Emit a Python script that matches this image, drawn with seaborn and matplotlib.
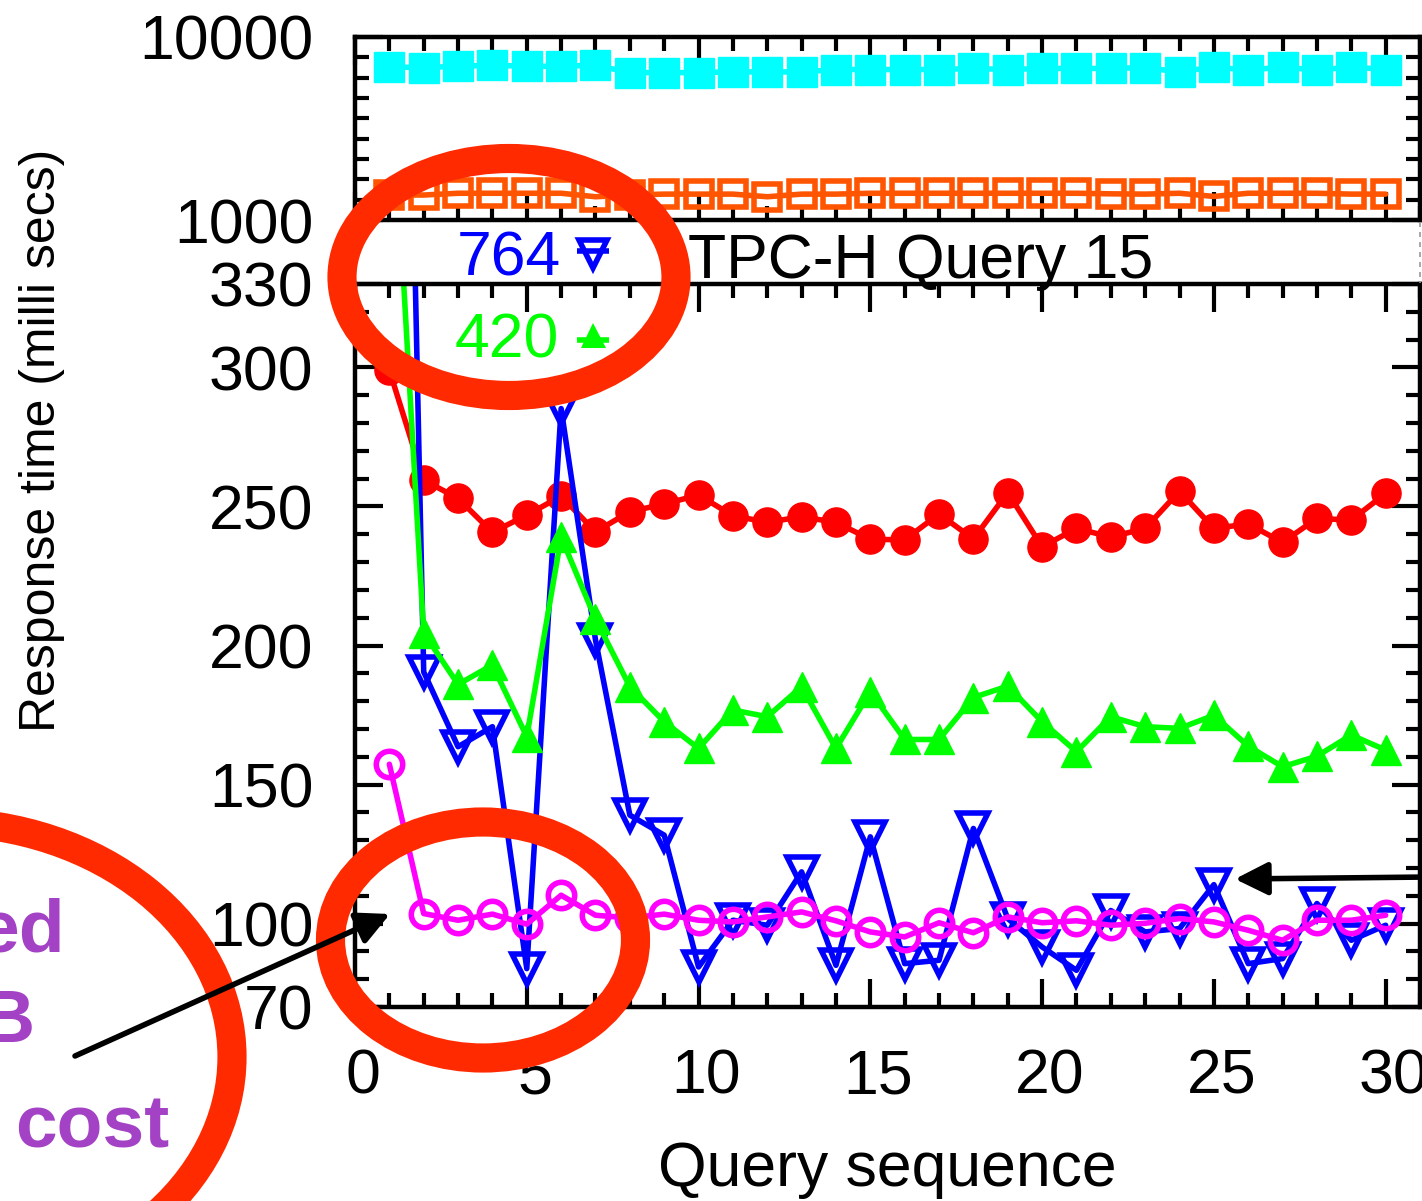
import matplotlib
matplotlib.use("Agg")
import matplotlib.pyplot as plt
import matplotlib.ticker as mticker
import matplotlib.transforms as mtransforms
from matplotlib.patches import Ellipse
import seaborn as sns

# ---------------------------------------------------------------- data
queries = list(range(1, 31))

# upper (log) panel
resp_cyan = [6860, 6810, 6920, 7010, 6920, 6920, 7010, 6390, 6390, 6390,
             6445, 6445, 6445, 6640, 6640, 6640, 6640, 6730, 6640, 6730,
             6730, 6730, 6810, 6440, 6860, 6580, 6860, 6580, 6860, 6640]
resp_orange = [1369, 1369, 1400, 1400, 1400, 1400, 1340, 1369, 1385, 1385,
               1385, 1340, 1385, 1385, 1400, 1400, 1400, 1400, 1400, 1400,
               1400, 1390, 1385, 1400, 1345, 1400, 1400, 1400, 1385, 1385]

# lower (linear) panel
resp_red = [299, 259.5, 252.9, 240.7, 246.9, 253.7, 240.9, 248.1, 250.9, 254.1,
            246.7, 244.3, 246.3, 244.3, 238.2, 238.0, 247.3, 238.3, 255.0, 235.5,
            242.1, 239.0, 242.1, 255.5, 242.1, 243.7, 237.1, 245.7, 245.1, 254.7]
resp_blue = [764, 190.5, 163.6, 170.8, 83.8, 285.2, 202.0, 139.0, 131.8, 84.4,
             101.2, 99.4, 118.6, 85.0, 131.2, 85.6, 86.8, 134.2, 101.8, 91.6,
             83.2, 104.7, 97.0, 98.2, 114.0, 85.6, 87.4, 107.2, 94.0, 99.4]
resp_green = [420, 204.5, 186.0, 193.0, 167.2, 239.0, 209.5, 185.2, 172.6, 163.0,
              176.8, 174.4, 185.2, 163.0, 183.4, 166.2, 166.2, 181.3, 185.4, 172.6,
              161.8, 174.4, 170.8, 170.2, 174.9, 163.8, 156.4, 160.2, 167.8, 162.4]
resp_magenta = [157.3, 103.6, 101.2, 103.4, 99.8, 110.2, 103.0, 102.0, 103.4, 101.2,
                100.6, 102.4, 104.2, 101.0, 97.0, 95.2, 100.3, 96.7, 102.4, 100.3,
                101.0, 99.4, 100.1, 101.8, 100.6, 97.6, 94.0, 101.2, 101.2, 103.0]

blue_label = "764"
green_label = "420"
top_ticks = [1000, 10000]
bottom_ticks = [70, 100, 150, 200, 250, 300, 330]

# ---------------------------------------------------------------- style
sns.set_theme(style="ticks")
plt.rcParams["font.family"] = ["Liberation Sans", "DejaVu Sans"]

W, H, DPI = 1422, 1201, 100
fig = plt.figure(figsize=(W / DPI, H / DPI), dpi=DPI, facecolor="white")


def box(left, top, right, bottom):
    return [left / W, 1 - bottom / H, (right - left) / W, (bottom - top) / H]


ax_top = fig.add_axes(box(355, 37, 1420, 220))
ax_bot = fig.add_axes(box(355, 284, 1420, 1007))

LW, MEW = 4.0, 4.0


def draw(ax, values, color, marker, filled, ms):
    sns.lineplot(x=queries, y=values, ax=ax, color=color, marker=marker,
                 markersize=ms, markerfacecolor=color if filled else "none",
                 markeredgecolor=color, markeredgewidth=MEW if not filled else 1.0,
                 linewidth=LW, legend=False)


draw(ax_top, resp_cyan, "#00FFFF", "s", True, 21)
draw(ax_top, resp_orange, "#FF5500", "s", False, 19)

draw(ax_bot, resp_red, "#FF0000", "o", True, 21)
draw(ax_bot, resp_blue, "#0000FF", "v", False, 21)
draw(ax_bot, resp_green, "#00FF00", "^", True, 21)
draw(ax_bot, resp_magenta, "#FF00FF", "o", False, 19)

for ax in (ax_top, ax_bot):
    ax.set_xlim(0, 31)
    ax.set_xlabel("")
    ax.set_ylabel("")
    ax.set_facecolor("white")
    ax.xaxis.set_major_locator(mticker.MultipleLocator(5))
    ax.xaxis.set_minor_locator(mticker.MultipleLocator(1))
    ax.tick_params(which="both", direction="in", top=True, bottom=True,
                   left=True, right=True, width=3.0, color="black",
                   labelsize=45, labelcolor="black")
    ax.tick_params(which="major", length=20)
    ax.tick_params(which="minor", length=10)
    ax.tick_params(axis="y", which="both", pad=30)
    for s in ax.spines.values():
        s.set_visible(True)
        s.set_linewidth(3.2)
        s.set_color("black")

ax_top.set_yscale("log")
ax_top.set_ylim(1000, 10000)
ax_top.yaxis.set_major_locator(mticker.FixedLocator(top_ticks))
ax_top.yaxis.set_major_formatter(mticker.FixedFormatter([str(v) for v in top_ticks]))
ax_top.yaxis.set_minor_locator(mticker.FixedLocator([10 ** (3 + k / 9) for k in range(1, 9)]))
ax_top.yaxis.set_minor_formatter(mticker.NullFormatter())
ax_top.tick_params(axis="x", labelbottom=False)

ax_bot.set_ylim(70, 330)
ax_bot.yaxis.set_major_locator(mticker.FixedLocator(bottom_ticks))
ax_bot.yaxis.set_major_formatter(mticker.FixedFormatter([str(v) for v in bottom_ticks]))
ax_bot.yaxis.set_minor_locator(mticker.MultipleLocator(10))
ax_bot.tick_params(axis="x", which="both", pad=29)

shift = mtransforms.ScaledTranslation(8 / DPI, 0, fig.dpi_scale_trans)
for t in ax_bot.xaxis.get_major_ticks():
    t.label1.set_transform(t.label1.get_transform() + shift)

# axis titles
fig.text(42 / W, 1 - 440 / H, "Response time (milli secs)", rotation=90,
         ha="center", va="center", fontsize=36, color="black")
fig.text(887 / W, 1 - 1186 / H, "Query sequence", ha="center",
         va="baseline", fontsize=45, color="black")

# ---------------------------------------------------------------- overlay
ov = fig.add_axes([0, 0, 1, 1], zorder=10)
ov.set_xlim(0, W)
ov.set_ylim(H, 0)
ov.axis("off")
ov.patch.set_alpha(0)

ov.text(688, 278, "TPC-H Query 15", ha="left", va="baseline", fontsize=45,
        color="black")
ov.text(457, 275, blue_label, ha="left", va="baseline", fontsize=45,
        color="#0000FF")
ov.plot([577, 609], [251, 251], color="#0000FF", lw=LW,
        solid_capstyle="butt")
ov.plot([593], [254], color="#0000FF", marker="v", ms=20,
        markerfacecolor="none", markeredgewidth=MEW, linestyle="none")
ov.text(455, 358, green_label, ha="left", va="baseline", fontsize=45,
        color="#00FF00")
ov.plot([577, 609], [340, 340], color="#00FF00", lw=LW,
        solid_capstyle="butt")
ov.plot([593], [335], color="#00FF00", marker="^", ms=18,
        markeredgewidth=0, linestyle="none")

ov.plot([1420, 1420], [222, 283], color="#999999", lw=1.2, ls=(0, (3, 3)))

ring = "#FF2A00"
for (cx, cy), w, h in [((509, 277), 334, 237), ((483, 940), 305, 236),
                       ((-60, 1057), 584, 470)]:
    ov.add_patch(Ellipse((cx, cy), w, h, fill=False, edgecolor=ring, lw=21))

purple = "#A342C4"
ov.text(65, 952, "ed", ha="right", va="baseline", fontsize=54,
        fontweight="bold", color=purple)
ov.text(35, 1042, "B", ha="right", va="baseline", fontsize=54,
        fontweight="bold", color=purple)
ov.text(15, 1147, "cost", ha="left", va="baseline", fontsize=54,
        fontweight="bold", color=purple)

arrow = dict(arrowstyle="-|>,head_length=1.0,head_width=0.5", color="black",
             lw=4.0, mutation_scale=20, shrinkA=0, shrinkB=0)
ov.annotate("", xy=(390, 914), xytext=(75, 1056), arrowprops=arrow)
ov.annotate("", xy=(1235, 879), xytext=(1430, 877), arrowprops=arrow)

fig.savefig("out.png", dpi=DPI, facecolor="white")
